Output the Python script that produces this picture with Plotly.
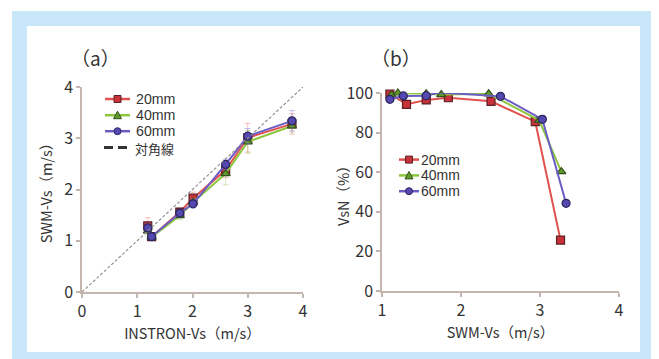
import plotly.graph_objects as go

# ---------------- data ----------------
series_names = ["20mm", "40mm", "60mm"]
diag_name = "対角線"

# panel (a): INSTRON-Vs vs SWM-Vs
a_x = [1.19, 1.26, 1.77, 2.01, 2.60, 3.00, 3.80]
a_y20 = [1.29, 1.08, 1.56, 1.83, 2.38, 3.01, 3.28]
a_y40 = [1.19, 1.07, 1.49, 1.75, 2.31, 2.93, 3.24]
a_y60 = [1.25, 1.08, 1.54, 1.72, 2.49, 3.04, 3.34]
a_e20 = [0.16, 0.05, 0.08, 0.12, 0.15, 0.28, 0.20]
a_e40 = [0.10, 0.05, 0.08, 0.08, 0.22, 0.22, 0.12]
a_e60 = [0.08, 0.05, 0.06, 0.08, 0.10, 0.15, 0.20]
diag_x = [0, 4]
diag_y = [0, 4]

# panel (b): SWM-Vs vs VsN
b_x20 = [1.10, 1.31, 1.56, 1.84, 2.38, 2.94, 3.26]
b_y20 = [99.5, 94.3, 96.5, 97.6, 95.8, 85.5, 25.7]
b_x40 = [1.12, 1.20, 1.56, 1.75, 2.35, 2.99, 3.27]
b_y40 = [99.0, 100.0, 99.6, 99.2, 99.6, 86.2, 60.3]
b_x60 = [1.10, 1.27, 1.56, 1.72, 2.50, 3.03, 3.33]
b_y60 = [96.8, 98.5, 98.6, 100.3, 98.3, 86.7, 44.3]

a_ticks = [0, 1, 2, 3, 4]
b_xticks = [1, 2, 3, 4]
b_yticks = [0, 20, 40, 60, 80, 100]

# ---------------- styles ----------------
W, H = 659, 359
OFF = 8  # page body margin of the rendered html
FONT = "Noto Sans CJK JP"
LFONT = "Liberation Sans"
TXT = "#333333"
AXC = "#c4b6ae"
line_cols = ["#e0524e", "#8cc63e", "#6b5bc4"]
fill_cols = ["#c8303a", "#5f9a2a", "#5548b0"]
edge_cols = ["#5a2224", "#34501c", "#2c2660"]
err_cols = ["rgba(230,120,110,0.45)", "rgba(150,200,90,0.45)", "rgba(130,120,210,0.45)"]
symbols = ["square", "triangle-up", "circle"]


def px(x):
    return (x - OFF) / W


def py(y):
    return (H - (y - OFF)) / H


fig = go.Figure()

a_ys = [a_y20, a_y40, a_y60]
a_es = [a_e20, a_e40, a_e60]
for i in range(3):
    fig.add_trace(go.Scatter(
        x=a_x, y=a_ys[i], name=series_names[i], mode="lines+markers",
        line=dict(color=line_cols[i], width=2),
        marker=dict(symbol=symbols[i], size=8, color=fill_cols[i],
                    line=dict(color=edge_cols[i], width=1.2)),
        error_y=dict(type="data", array=a_es[i], color=err_cols[i], thickness=1, width=3),
        xaxis="x", yaxis="y", showlegend=False, cliponaxis=False,
    ))
fig.add_trace(go.Scatter(
    x=diag_x, y=diag_y, name=diag_name, mode="lines",
    line=dict(color="#8a8a8a", width=1.1, dash="3px,2px"),
    xaxis="x", yaxis="y", showlegend=False,
))

b_xs = [b_x20, b_x40, b_x60]
b_ys = [b_y20, b_y40, b_y60]
for i in range(3):
    fig.add_trace(go.Scatter(
        x=b_xs[i], y=b_ys[i], name=series_names[i], mode="lines+markers",
        line=dict(color=line_cols[i], width=2),
        marker=dict(symbol=symbols[i], size=8, color=fill_cols[i],
                    line=dict(color=edge_cols[i], width=1.2)),
        xaxis="x2", yaxis="y2", showlegend=False, cliponaxis=False,
    ))

axis_common = dict(
    showgrid=False, zeroline=False, showline=True, linecolor=AXC, linewidth=1.5,
    ticks="outside", ticklen=4, tickcolor=AXC, tickwidth=1.5, automargin=False,
    tickfont=dict(family=FONT, size=16, color=TXT),
    title_font=dict(family=FONT, size=14.5, color=TXT),
)

shapes = [
    dict(type="rect", xref="paper", yref="paper", x0=px(12), x1=px(W + 20),
         y0=py(H + 20), y1=py(11), fillcolor="#c8e7f8", line=dict(width=0), layer="below"),
    dict(type="rect", xref="paper", yref="paper", x0=px(27), x1=px(640),
         y0=py(352), y1=py(26), fillcolor="white", line=dict(width=0), layer="below"),
]
annotations = [
    dict(text="（a）", x=px(95), y=py(57), xref="paper", yref="paper", xanchor="center",
         yanchor="middle", showarrow=False, font=dict(family=FONT, size=19, color=TXT)),
    dict(text="（b）", x=px(396), y=py(57), xref="paper", yref="paper", xanchor="center",
         yanchor="middle", showarrow=False, font=dict(family=FONT, size=19, color=TXT)),
    dict(text="VsN（%）", x=px(342), y=py(192), xref="paper", yref="paper", textangle=-90,
         xanchor="center", yanchor="middle", showarrow=False,
         font=dict(family=FONT, size=14.5, color=TXT)),
]


def legend_text(text, xt, yc, font):
    annotations.append(dict(text=text, x=px(xt), y=py(yc), xref="paper", yref="paper",
                            xanchor="left", yanchor="middle", showarrow=False,
                            borderpad=0, font=font))


def legend_entry(i, x0, x1, xt, yc, fsize, ms=7):
    """legend sample: line + marker + text (pixel positions of the legend box)"""
    xm = (x0 + x1) / 2
    shapes.append(dict(type="line", xref="paper", yref="paper", x0=px(x0), x1=px(x1),
                       y0=py(yc), y1=py(yc), line=dict(color=line_cols[i], width=2.5)))
    h = ms / 2
    mk = dict(xref="paper", yref="paper", fillcolor=fill_cols[i],
              line=dict(color=edge_cols[i], width=1))
    if symbols[i] == "square":
        shapes.append(dict(type="rect", x0=px(xm - h), x1=px(xm + h),
                           y0=py(yc + h), y1=py(yc - h), **mk))
    elif symbols[i] == "circle":
        shapes.append(dict(type="circle", x0=px(xm - h), x1=px(xm + h),
                           y0=py(yc + h), y1=py(yc - h), **mk))
    else:
        path = "M {} {} L {} {} L {} {} Z".format(px(xm - h - 0.5), py(yc + h), px(xm + h + 0.5),
                                                  py(yc + h), px(xm), py(yc - h - 0.5))
        shapes.append(dict(type="path", path=path, **mk))
    legend_text(series_names[i], xt, yc, dict(family=LFONT, size=fsize, color=TXT))


for i, yc in enumerate([99, 115.2, 131.2]):
    legend_entry(i, 105, 130, 135, yc, 14.2)
shapes.append(dict(type="line", xref="paper", yref="paper", x0=px(104), x1=px(127),
                   y0=py(147.5), y1=py(147.5), line=dict(color="#333333", width=3, dash="9px,5px")))
legend_text(diag_name, 134, 148.8, dict(family=FONT, size=13, color=TXT))
for i, yc in enumerate([159.6, 175.4, 191.2]):
    legend_entry(i, 399, 419, 420, yc, 14)

fig.update_layout(
    width=W, height=H,
    margin=dict(l=0, r=0, t=0, b=0, autoexpand=False),
    paper_bgcolor="white", plot_bgcolor="rgba(0,0,0,0)",
    font=dict(family=FONT, color=TXT),
    xaxis=dict(domain=[px(82), px(303)], range=[0, 4], tickvals=a_ticks,
               anchor="y", title=dict(text="INSTRON-Vs（m/s）", standoff=4), **axis_common),
    yaxis=dict(domain=[py(292), py(87)], range=[0, 4], tickvals=a_ticks,
               anchor="x", title=dict(text="SWM-Vs（m/s）", standoff=8), **axis_common),
    xaxis2=dict(domain=[px(382), px(619)], range=[1, 4], tickvals=b_xticks,
                anchor="y2", title=dict(text="SWM-Vs（m/s）", standoff=4), **axis_common),
    yaxis2=dict(domain=[py(291), py(93)], range=[0, 100], tickvals=b_yticks,
                anchor="x2", **axis_common),
    showlegend=False,
    shapes=shapes,
    annotations=annotations,
)

fig.write_html("out.html")
